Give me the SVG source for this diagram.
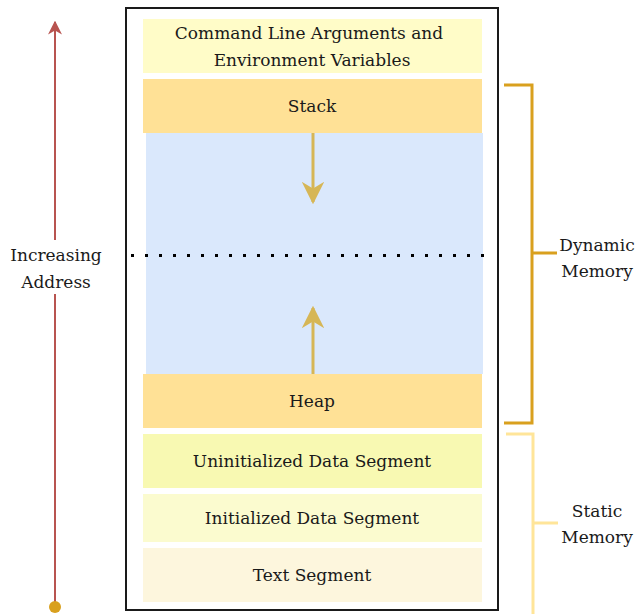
<svg xmlns="http://www.w3.org/2000/svg" width="637" height="614" viewBox="0 0 637 614">
<style>
text{font-family:"DejaVu Serif",serif;font-size:17px;fill:#1a1a1a;text-anchor:middle}
.seg{stroke:none}
</style>
<defs>
<marker id="gold" viewBox="0 0 10 10" refX="9" refY="5" markerWidth="7.5" markerHeight="7.5" orient="auto" markerUnits="strokeWidth"><path d="M0,0 L10,5 L0,10 L3,5 z" fill="#d6b656"/></marker>
<marker id="red" viewBox="0 0 10 10" refX="9" refY="5" markerWidth="7" markerHeight="7" orient="auto" markerUnits="strokeWidth"><path d="M0,0 L10,5 L0,10 L3,5 z" fill="#b85450"/></marker>
</defs>
<rect width="637" height="614" fill="#ffffff"/>
<g id="memory-box"><rect x="126" y="8" width="372" height="602" fill="#ffffff" stroke="#1a1a1a" stroke-width="2"/></g>
<g id="free-space"><rect class="seg" x="146" y="133" width="337" height="241" fill="#dae8fc"/></g>
<g id="cmd"><rect class="seg" x="143" y="19" width="339" height="54" fill="#fffcc8"/><text x="309" y="39">Command Line Arguments and</text><text x="312" y="66">Environment Variables</text></g>
<g id="stack"><rect class="seg" x="143" y="79" width="339" height="54" fill="#ffe196"/><text x="312" y="112">Stack</text></g>
<g id="heap"><rect class="seg" x="143" y="374" width="339" height="54" fill="#ffe196"/><text x="312" y="407">Heap</text></g>
<g id="uninit"><rect class="seg" x="143" y="434" width="339" height="54" fill="#f8f9b2"/><text x="312" y="467">Uninitialized Data Segment</text></g>
<g id="init"><rect class="seg" x="143" y="494" width="339" height="48" fill="#fbfbcf"/><text x="312" y="524">Initialized Data Segment</text></g>
<g id="text-seg"><rect class="seg" x="143" y="548" width="339" height="54" fill="#fdf6dd"/><text x="312" y="581">Text Segment</text></g>
<g id="connectors">
<line x1="313" y1="133" x2="313" y2="202" stroke="#d6b656" stroke-width="3" marker-end="url(#gold)"/>
<line x1="313" y1="374" x2="313" y2="308" stroke="#d6b656" stroke-width="3" marker-end="url(#gold)"/>
<line x1="131" y1="255.5" x2="492" y2="255.5" stroke="#000" stroke-width="3" stroke-dasharray="3 11"/>
<line x1="55" y1="607" x2="55" y2="22" stroke="#b85450" stroke-width="2" marker-end="url(#red)"/>
<circle cx="55" cy="607" r="6" fill="#d9a01e"/>
<path d="M504,85 H532 V423 H504 M532,253 H557" fill="none" stroke="#d9a01e" stroke-width="3"/>
<path d="M506,434 H533 V614 M533,523 H558" fill="none" stroke="#ffe599" stroke-width="3"/>
</g>
<g id="addr-label"><rect x="8" y="240" width="96" height="54" fill="#ffffff"/><text x="56" y="261">Increasing</text><text x="56" y="288">Address</text></g>
<g id="dyn-label"><text x="597" y="251">Dynamic</text><text x="597" y="277">Memory</text></g>
<g id="static-label"><text x="597" y="517">Static</text><text x="597" y="543">Memory</text></g>
</svg>
